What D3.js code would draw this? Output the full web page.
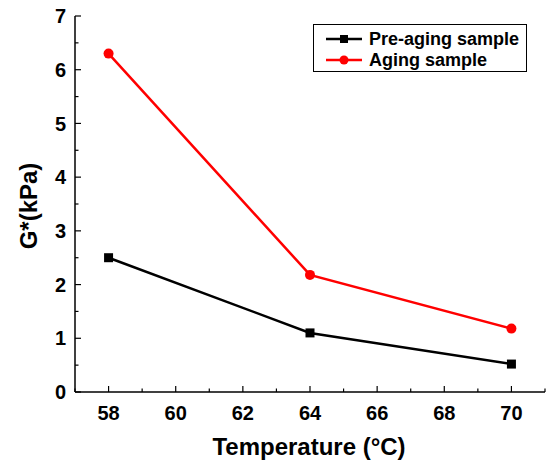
<!DOCTYPE html>
<html>
<head>
<meta charset="utf-8">
<script src="https://cdn.jsdelivr.net/npm/d3@7"></script>
<style>
  body { margin: 0; background: #fff; }
  svg { display: block; font-family: "Liberation Sans", Arial, sans-serif; }
  .tick-label { font-size: 20px; font-weight: bold; fill: #000; }
  .axis-title { font-size: 24px; font-weight: bold; fill: #000; }
  .legend-text { font-size: 18px; font-weight: bold; fill: #000; }
</style>
</head>
<body>
<svg id="chart" width="547" height="464"></svg>
<script>
// data
const temperatures = [58, 64, 70];
const preAging = [2.5, 1.1, 0.52];
const aging = [6.3, 2.18, 1.18];
const xTicks = [58, 60, 62, 64, 66, 68, 70];
const yTicks = [0, 1, 2, 3, 4, 5, 6, 7];

const series = [
  { name: 'Pre-aging sample', values: preAging, color: '#000000', marker: 'square' },
  { name: 'Aging sample', values: aging, color: '#ff0000', marker: 'circle' }
];

const svg = d3.select('#chart');
const x = d3.scaleLinear().domain([57, 71]).range([75, 545]);
const y = d3.scaleLinear().domain([0, 7]).range([392, 16]);

const g = svg.append('g');

// axis lines
g.append('line').attr('x1', x(57)).attr('x2', x(71)).attr('y1', y(0)).attr('y2', y(0))
  .attr('stroke', '#000').attr('stroke-width', 1.5);
g.append('line').attr('x1', x(57)).attr('x2', x(57)).attr('y1', y(0)).attr('y2', y(7))
  .attr('stroke', '#000').attr('stroke-width', 1.5);

// x ticks (inward), minor at odd values
d3.range(57, 72, 1).forEach(v => {
  const major = xTicks.includes(v);
  g.append('line')
    .attr('x1', x(v)).attr('x2', x(v))
    .attr('y1', y(0)).attr('y2', y(0) - (major ? 6 : 3.5))
    .attr('stroke', '#000').attr('stroke-width', 1.2);
});
xTicks.forEach(v => {
  g.append('text').attr('class', 'tick-label')
    .attr('x', x(v)).attr('y', y(0) + 28)
    .attr('text-anchor', 'middle')
    .text(v);
});

// y ticks (inward), minor at halves
d3.range(0, 7.01, 0.5).forEach(v => {
  const major = Number.isInteger(v);
  g.append('line')
    .attr('x1', x(57)).attr('x2', x(57) + (major ? 6 : 3.5))
    .attr('y1', y(v)).attr('y2', y(v))
    .attr('stroke', '#000').attr('stroke-width', 1.2);
});
yTicks.forEach(v => {
  g.append('text').attr('class', 'tick-label')
    .attr('x', x(57) - 9).attr('y', y(v))
    .attr('dy', '0.36em')
    .attr('text-anchor', 'end')
    .text(v);
});

// axis titles
svg.append('text').attr('class', 'axis-title')
  .attr('x', 309).attr('y', 455)
  .attr('text-anchor', 'middle')
  .text('Temperature (°C)');
svg.append('text').attr('class', 'axis-title')
  .attr('transform', `translate(37,${(y(0) + y(7)) / 2 + 2}) rotate(-90)`)
  .attr('text-anchor', 'middle')
  .text('G*(kPa)');

// lines and markers
const line = d3.line().x(d => x(d[0])).y(d => y(d[1]));
series.forEach(s => {
  const pts = temperatures.map((t, i) => [t, s.values[i]]);
  g.append('path').datum(pts)
    .attr('d', line)
    .attr('fill', 'none')
    .attr('stroke', s.color)
    .attr('stroke-width', 2.5);
  pts.forEach(p => {
    if (s.marker === 'square') {
      g.append('rect')
        .attr('x', x(p[0]) - 4.5).attr('y', y(p[1]) - 4.5)
        .attr('width', 9).attr('height', 9)
        .attr('fill', s.color);
    } else {
      g.append('circle')
        .attr('cx', x(p[0])).attr('cy', y(p[1]))
        .attr('r', 5).attr('fill', s.color);
    }
  });
});

// legend
const legend = svg.append('g');
legend.append('rect')
  .attr('x', 313.5).attr('y', 24.5).attr('width', 213).attr('height', 47)
  .attr('fill', '#fff').attr('stroke', '#000').attr('stroke-width', 1);
series.forEach((s, i) => {
  const ly = 39 + i * 21;
  legend.append('line')
    .attr('x1', 326).attr('x2', 362).attr('y1', ly).attr('y2', ly)
    .attr('stroke', s.color).attr('stroke-width', 2.5);
  if (s.marker === 'square') {
    legend.append('rect').attr('x', 340).attr('y', ly - 4)
      .attr('width', 8).attr('height', 8).attr('fill', s.color);
  } else {
    legend.append('circle').attr('cx', 344).attr('cy', ly)
      .attr('r', 4.5).attr('fill', s.color);
  }
  legend.append('text').attr('class', 'legend-text')
    .attr('x', 369).attr('y', ly).attr('dy', '0.36em')
    .text(s.name);
});
</script>
</body>
</html>
